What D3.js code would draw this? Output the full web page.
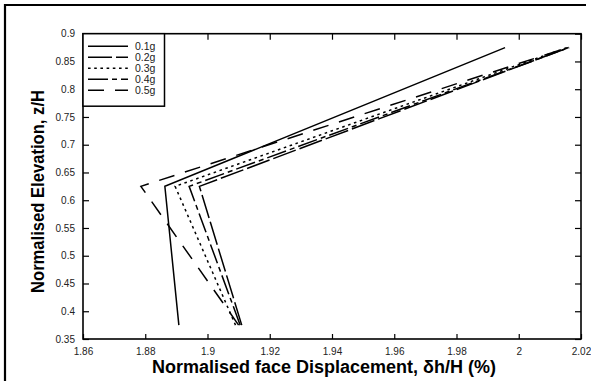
<!DOCTYPE html>
<html>
<head>
<meta charset="utf-8">
<script src="https://cdn.jsdelivr.net/npm/d3@7"></script>
<style>
  html, body { margin: 0; padding: 0; background: #fff; }
  svg { display: block; font-family: "Liberation Sans", Arial, sans-serif; }
</style>
</head>
<body>
<svg id="chart" width="591" height="381"></svg>
<script>
// Wall face displacement profiles for different base accelerations
const seriesNames = ["0.1g", "0.2g", "0.3g", "0.4g", "0.5g"];
const elevation = [0.375, 0.625, 0.875];
const disp01 = [1.8908, 1.8863, 1.9956];
const disp02 = [1.9110, 1.8974, 2.0160];
const disp03 = [1.9090, 1.8896, 2.0155];
const disp04 = [1.9105, 1.8941, 2.0162];
const disp05 = [1.9100, 1.8786, 2.0158];
const xTicks = [1.86, 1.88, 1.9, 1.92, 1.94, 1.96, 1.98, 2, 2.02];
const yTicks = [0.35, 0.4, 0.45, 0.5, 0.55, 0.6, 0.65, 0.7, 0.75, 0.8, 0.85, 0.9];

const dashes = ["none", "24,4", "2.6,3.6", "20,4,5,4", "16,11"];
const seriesValues = [disp01, disp02, disp03, disp04, disp05];

const svg = d3.select("#chart");
const L = 83, R = 581, T = 33.7, B = 339;

const x = d3.scaleLinear().domain([1.86, 2.02]).range([L, R]);
const y = d3.scaleLinear().domain([0.35, 0.9]).range([B, T]);

// outer frame (top and left edges)
svg.append("path")
  .attr("d", `M5,381 L5,5 L586,5`)
  .attr("fill", "none").attr("stroke", "#000").attr("stroke-width", 2.2);

// axes with inward ticks on all four sides
const fmt = d => String(+d.toFixed(2));
const axisStyle = g => {
  g.select(".domain").remove();
  g.selectAll("line").attr("stroke", "#000").attr("stroke-width", 1.2);
  g.selectAll("text").attr("font-size", 10).attr("fill", "#222");
};
svg.append("g").attr("transform", `translate(0,${B})`)
  .call(d3.axisBottom(x).tickValues(xTicks).tickFormat(fmt).tickSizeInner(-5).tickSizeOuter(0).tickPadding(9))
  .call(axisStyle);
svg.append("g").attr("transform", `translate(0,${T})`)
  .call(d3.axisTop(x).tickValues(xTicks).tickFormat("").tickSizeInner(-6).tickSizeOuter(0))
  .call(axisStyle);
svg.append("g").attr("transform", `translate(${L},0)`)
  .call(d3.axisLeft(y).tickValues(yTicks).tickFormat(fmt).tickSizeInner(-6).tickSizeOuter(0).tickPadding(8))
  .call(axisStyle);
svg.append("g").attr("transform", `translate(${R},0)`)
  .call(d3.axisRight(y).tickValues(yTicks).tickFormat("").tickSizeInner(-6).tickSizeOuter(0))
  .call(axisStyle);

svg.append("rect")
  .attr("x", L).attr("y", T).attr("width", R - L).attr("height", B - T)
  .attr("fill", "none").attr("stroke", "#000").attr("stroke-width", 1.6);

// profiles
const line = d3.line().x(d => x(d[0])).y(d => y(d[1]));
seriesValues.forEach((vals, i) => {
  svg.append("path")
    .datum(vals.map((v, k) => [v, elevation[k]]))
    .attr("d", line)
    .attr("fill", "none")
    .attr("stroke", "#000")
    .attr("stroke-width", 1.5)
    .attr("stroke-dasharray", dashes[i]);
});

// legend
const lg = svg.append("g");
lg.append("rect")
  .attr("x", L).attr("y", T).attr("width", 81.5).attr("height", 72.5)
  .attr("fill", "#fff").attr("stroke", "#000").attr("stroke-width", 1.5);
seriesNames.forEach((name, i) => {
  const yy = 46.3 + i * 11;
  lg.append("line")
    .attr("x1", 88).attr("x2", 128).attr("y1", yy).attr("y2", yy)
    .attr("stroke", "#000").attr("stroke-width", 1.4)
    .attr("stroke-dasharray", dashes[i]);
  lg.append("text")
    .attr("x", 135).attr("y", yy + 3.6)
    .attr("font-size", 10.5).attr("fill", "#222")
    .text(name);
});

// axis titles
svg.append("text")
  .attr("x", 324).attr("y", 373)
  .attr("text-anchor", "middle")
  .attr("font-size", 18).attr("font-weight", "bold")
  .text("Normalised face Displacement, δh/H (%)");
svg.append("text")
  .attr("transform", "translate(43.5,191.5) rotate(-90)")
  .attr("text-anchor", "middle")
  .attr("font-size", 18).attr("font-weight", "bold")
  .attr("textLength", 203).attr("lengthAdjust", "spacingAndGlyphs")
  .text("Normalised Elevation, z/H");
</script>
</body>
</html>
